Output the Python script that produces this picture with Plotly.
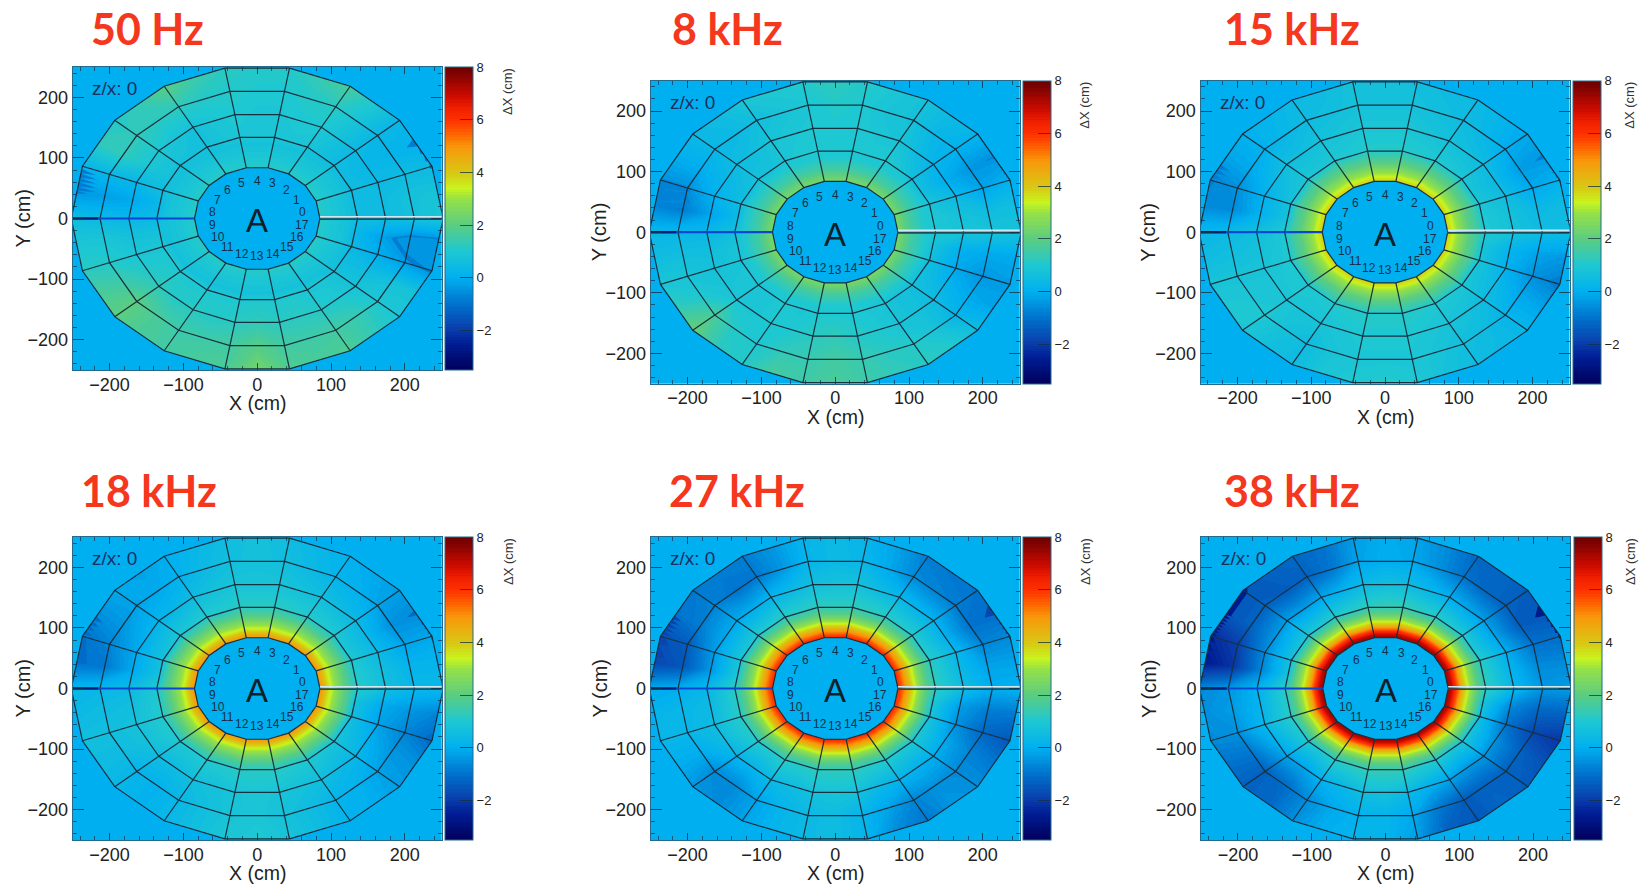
import numpy as np
import plotly.graph_objects as go

W, H = 1640, 884
titles = ["50 Hz", "8 kHz", "15 kHz", "18 kHz", "27 kHz", "38 kHz"]
title_centers = [(147, 29), (727, 29), (1291.7, 29), (148.5, 490.5), (737, 490.5), (1291.7, 490.5)]
axes_left = [72.7, 650.7, 1200.5, 72.7, 650.7, 1201]
axes_top = [67, 80.7, 80.7, 537, 537, 537]
axes_w, axes_h = 369, 303
ytitle_x = [22, 599, 1148.5, 22, 599, 1148.5]
dx_label_x = [508, 1085, 1630, 508, 1085, 1630]

angles_deg = [0, 10, 20, 30, 40, 50, 60, 70, 80, 90, 100, 110, 120, 130, 140, 150, 160, 170,
              180, 190, 200, 210, 220, 230, 240, 250, 260, 270, 280, 290, 300, 310, 320, 330, 340, 350]
inner_radii = [85, 90, 97, 105, 115, 125]
outer_radii = [136, 174, 213, 252]
ring_radii = [85, 136, 174, 213, 252]
sector_labels = list(range(18))

# dX (cm) read near the inner wall, same all round
hz50_inner = [1.2, 1.1, 1.0, 0.9, 0.8, 0.7]
khz8_inner = [2.5, 2.3, 2.0, 1.6, 1.3, 1.0]
khz15_inner = [3.9, 3.6, 3.1, 2.6, 2.0, 1.6]
khz18_inner = [5.0, 4.5, 3.7, 3.0, 2.3, 1.7]
khz27_inner = [6.2, 5.7, 4.8, 3.8, 2.7, 1.9]
khz38_inner = [7.5, 7.0, 5.8, 4.3, 3.0, 2.0]

# dX (cm) read on each outer ring, one row per ring, one column per angle
hz50_outer = [
 [.5,.5,.5,.5,.5,.6,.8,.9,.9,.9,.9,.8,.7,.7,.7,.7,.6,.3,.4,.7,.9,1.,1.,1.,1.,1.,1.,1.,1.,1.,.9,.9,.7,.5,.4,.3],
 [.5,.5,.4,.3,.4,.7,1.0,1.0,.9,.9,1.,.9,.7,.8,1.,.9,.3,-.1,.3,.7,.9,1.1,1.3,1.1,1.2,1.1,1.2,1.3,1.2,1.2,1.1,1.,.8,.5,0,-.2],
 [.7,.7,.5,.2,.3,.8,1.2,1.1,1.,1.,1.1,1.1,1.3,1.2,1.3,1.3,.3,-.3,.4,.9,1.1,1.5,2.,1.7,1.5,1.5,1.6,1.9,1.6,1.5,1.6,1.4,1.,.7,-.3,-.7],
 [.9,.8,.4,.1,.3,1.,1.7,1.4,1.1,1.1,1.2,1.5,2.,1.4,1.1,1.3,.2,-.4,.5,.9,1.2,1.7,2.,1.7,1.6,1.7,1.7,2.4,1.8,1.7,1.8,1.3,.9,.8,-.5,-.8],
]
khz8_outer = [
 [.9,1.,.8,.6,.6,.9,1.1,1.,1.,1.,1.,1.,.9,.7,.7,.6,.5,.4,.6,.8,.8,.9,.9,.9,1.,.9,1.,1.,1.,.9,.8,.7,.6,.6,.6,.7],
 [.8,.7,.4,.0,.2,.5,.8,.9,1.,1.,1.,.9,.8,.6,.5,.3,.1,-.2,.3,.6,.7,.8,.9,.9,1.,1.,1.2,1.3,1.1,1.,.8,.7,.5,.2,-.1,.1],
 [.8,.5,-.2,-.4,.1,.3,.7,.8,1.,1.1,.9,.8,.6,.4,.3,.0,-.5,-.8,.3,.6,.8,1.,1.7,1.1,1.,1.3,1.4,1.6,1.4,1.2,1.1,.8,.2,-.1,-.4,-.1],
 [.7,.6,.1,-.5,.2,.4,.7,.9,1.1,1.3,1.1,1.,.9,.5,.4,.0,-.5,-.7,.3,.5,.9,1.3,2.2,1.2,1.1,1.7,1.5,1.7,1.5,1.3,1.2,1.1,.6,-.2,-.3,-.1],
]
khz15_outer = [
 [1.,1.,.9,.8,.9,1.,1.,1.1,1.1,1.1,1.1,1.,1.,.9,.9,.8,.7,.7,1.,1.,1.,1.,1.,1.,1.1,1.1,1.1,1.1,1.1,1.1,1.,1.,.9,.8,.8,.8],
 [.7,.7,.5,.4,.5,.6,.7,.8,.9,.9,.9,.8,.7,.6,.6,.4,.1,.1,.6,.7,.8,.9,.9,.8,.8,.9,1.,1.,1.,.9,.8,.7,.5,.4,.1,.2],
 [.5,.4,-.1,-.3,.0,.3,.5,.6,.7,.7,.7,.6,.5,.3,.1,-.1,-.5,-.6,.4,.6,.8,.9,1.,.7,.5,.8,.9,.9,.9,.8,.6,.5,.2,-.1,-.5,-.2],
 [.5,.5,.1,-.4,-.1,.2,.4,.5,.6,.7,.7,.5,.4,.2,.1,-.2,-.7,-.6,.3,.5,.8,1.,.9,.6,.5,.9,1.,1.1,1.,.7,.5,.4,.3,-.2,-.8,-.4],
]
khz18_outer = [
 [1.1,1.1,1.,.9,1.,1.1,1.1,1.2,1.2,1.2,1.2,1.1,1.1,1.,.9,.8,.7,.7,1.,1.1,1.1,1.1,1.,1.,1.1,1.1,1.2,1.2,1.2,1.1,1.,.9,.8,.7,.6,.7],
 [.6,.6,.4,.3,.4,.5,.6,.7,.8,.8,.8,.7,.5,.3,.2,.1,-.1,-.1,.4,.6,.7,.7,.5,.5,.6,.7,.8,.9,.8,.7,.6,.4,.3,.1,-.2,-.1],
 [.3,.2,-.2,-.5,-.2,.1,.2,.4,.6,.7,.6,.4,.1,-.1,-.2,-.4,-.7,-.9,.3,.5,.6,.5,.2,.1,.3,.6,.8,.9,.7,.5,.2,.1,-.2,-.4,-.7,-.4],
 [.3,.2,-.1,-.6,-.3,-.1,.1,.3,.5,.7,.5,.3,.0,-.2,-.1,-.5,-1.,-1.,.2,.4,.6,.5,.3,.1,.3,.6,.9,1.,.8,.5,.1,.0,-.3,-.5,-1.1,-.7],
]
khz27_outer = [
 [1.3,1.3,1.2,1.1,1.1,1.2,1.2,1.3,1.3,1.3,1.3,1.2,1.2,1.1,1.,.9,.9,.9,1.2,1.2,1.2,1.2,1.1,1.1,1.2,1.2,1.3,1.3,1.3,1.2,1.1,1.,1.,.9,.8,.9],
 [.5,.4,.3,.1,.1,.2,.3,.5,.7,.7,.6,.4,.2,.0,-.1,-.1,-.3,-.4,.3,.4,.5,.5,.2,.2,.4,.5,.7,.8,.7,.4,.2,.1,.0,-.1,-.5,-.3],
 [.0,-.2,-.7,-1.,-.8,-.7,-.6,-.1,.3,.4,.2,-.4,-.9,-1.,-.7,-.8,-1.4,-1.5,.0,.3,.3,.0,-.6,-.6,-.2,.2,.4,.5,.2,-.2,-.7,-.5,-.6,-.7,-1.2,-.8],
 [.1,-.2,-.6,-1.1,-1.,-.9,-.8,-.2,.2,.4,.2,-.4,-.8,-.8,-.9,-1.,-1.6,-1.8,-.1,.2,.3,.0,-.4,-.6,-.2,.2,.4,.5,.2,-.6,-.9,-.4,-.5,-.9,-1.5,-.9],
]
khz38_outer = [
 [1.3,1.3,1.2,1.,1.,1.1,1.2,1.3,1.4,1.4,1.3,1.2,1.1,1.,.9,.8,.7,.7,1.2,1.2,1.2,1.1,1.,1.,1.2,1.3,1.4,1.4,1.4,1.2,1.1,.9,.9,.8,.6,.8],
 [.3,.2,.0,-.2,-.3,-.1,.0,.3,.5,.6,.4,.1,-.2,-.3,-.3,-.4,-.6,-.7,.1,.2,.3,.1,-.2,-.2,.1,.3,.6,.7,.4,.1,-.2,-.4,-.4,-.5,-1.,-.6],
 [-.4,-.6,-1.,-1.4,-1.3,-1.2,-1.,-.5,-.1,.0,-.2,-.9,-1.3,-1.4,-1.3,-1.3,-1.9,-2.1,-.4,-.3,-.5,-.9,-1.3,-1.1,-.6,-.1,.1,.2,-.1,-.9,-1.4,-1.3,-1.3,-1.3,-1.8,-1.2],
 [-.3,-.6,-1.1,-1.5,-1.4,-1.2,-1.2,-.6,-.2,.0,-.3,-1.,-1.2,-1.3,-1.5,-1.5,-2.3,-2.6,-.6,-.5,-.6,-1.,-1.3,-1.2,-.5,.0,.2,.2,-.3,-1.3,-1.5,-1.2,-1.4,-1.6,-2.1,-1.3],
]
inner_tables = [hz50_inner, khz8_inner, khz15_inner, khz18_inner, khz27_inner, khz38_inner]
outer_tables = [hz50_outer, khz8_outer, khz15_outer, khz18_outer, khz27_outer, khz38_outer]

Z_MIN, Z_MAX = -3.5, 8.0
color_stops = [(-3.5, "#00005f"), (-2.5, "#001e96"), (-2.0, "#0a3caa"), (-1.0, "#0073cd"), (0.0, "#00aff0"),
               (1.0, "#1ec8d2"), (2.0, "#5acd82"), (3.0, "#96e146"), (3.4, "#c8f51e"), (4.0, "#d7c814"),
               (5.0, "#fa960a"), (5.5, "#ff6400"), (6.0, "#ff3200"), (6.5, "#f01e00"), (7.0, "#c80a00"), (8.0, "#6e0000")]
colorscale = [[(v - Z_MIN) / (Z_MAX - Z_MIN), c] for v, c in color_stops]
BG = "#00aff0"
INK = "#17313f"
AXIS = "#246a8c"


def px_x(p):
    return p / W


def px_y(p):
    return 1 - p / H


def polygon_radius(r, ang):
    """Rings are 18-sided: vertices on multiples of 20 deg, straight chords between."""
    off = (ang % 20) - 10
    return r * np.cos(np.radians(10)) / np.cos(np.radians(off))


fig = go.Figure()
annotations = []
layout_axes = {}
angle_nodes = angles_deg + [360]
radius_nodes = inner_radii + outer_radii

for i in range(6):
    sfx = "" if i == 0 else str(i + 1)
    xref, yref = "x" + sfx, "y" + sfx
    L, T = axes_left[i], axes_top[i]
    R, B = L + axes_w, T + axes_h

    rows = [[v] * 36 for v in inner_tables[i]] + outer_tables[i]
    z = np.array(rows)              # radius first, angle second; the 360 column closes the ring
    z = np.hstack([z, z[:, :1]])
    aa, rr = np.meshgrid(angle_nodes, radius_nodes)
    rad = polygon_radius(rr.astype(float), aa.astype(float))
    xx = rad * np.cos(np.radians(aa))
    yy = rad * np.sin(np.radians(aa))
    cid = f"c{i}"
    hidden = dict(showgrid=False, showline=False, showticklabels="none", startline=False, endline=False,
                  minorgridcount=0, smoothing=0)
    # carpet a = angle, b = radius
    fig.add_trace(go.Carpet(a=angle_nodes, b=radius_nodes, x=xx.tolist(), y=yy.tolist(), carpet=cid,
                            xaxis=xref, yaxis=yref, aaxis=hidden, baxis=hidden))
    # levels sit between the one-decimal readings so none lands exactly on a node
    fig.add_trace(go.Contourcarpet(
        a=angle_nodes, b=radius_nodes, z=z.tolist(), carpet=cid, xaxis=xref, yaxis=yref,
        colorscale=colorscale, zmin=Z_MIN, zmax=Z_MAX, autocontour=False,
        contours=dict(start=Z_MIN + 0.037, end=Z_MAX, size=0.1, coloring="fill", showlines=False),
        line=dict(width=0, smoothing=0),
        colorbar=dict(x=px_x(R + 3.5), xanchor="left", xpad=0, y=px_y((T + B) / 2), yanchor="middle", ypad=0,
                      len=axes_h / H, lenmode="fraction", thickness=28, thicknessmode="pixels",
                      outlinewidth=1, outlinecolor=AXIS, borderwidth=0,
                      tickmode="array", tickvals=[-2, 0, 2, 4, 6, 8], ticktext=["\u22122", "0", "2", "4", "6", "8"],
                      ticks="inside", ticklen=13, tickwidth=1, tickcolor="rgba(20,50,60,0.75)",
                      tickfont=dict(family="Liberation Sans", size=13, color="#222"))))

    # sector grid
    gx, gy = [], []
    for r in ring_radii:
        for a in range(0, 361, 20):
            gx.append(r * np.cos(np.radians(a)))
            gy.append(r * np.sin(np.radians(a)))
        gx.append(None)
        gy.append(None)
    for a in range(20, 360, 20):
        if a == 180:
            continue
        gx += [85 * np.cos(np.radians(a)), 252 * np.cos(np.radians(a)), None]
        gy += [85 * np.sin(np.radians(a)), 252 * np.sin(np.radians(a)), None]
    fig.add_trace(go.Scatter(x=gx, y=gy, mode="lines", line=dict(color=INK, width=1.2), xaxis=xref, yaxis=yref,
                             hoverinfo="skip", showlegend=False))
    # the sector boundary lines along y = 0
    for xs, ys, col, wd in [([-85, -215], [0, 0], "#0a46d2", 2.2), ([-215, -250], [0, 0], "#001e78", 2.6),
                            ([85, 250], [3, 3], "#cfe8f2", 1.6), ([85, 250], [-1, -1], "#1a4c5e", 1.8)]:
        fig.add_trace(go.Scatter(x=xs, y=ys, mode="lines", line=dict(color=col, width=wd), xaxis=xref, yaxis=yref,
                                 hoverinfo="skip", showlegend=False))

    base = dict(range=[-250, 250], tick0=0, dtick=100, ticks="inside", showline=True, linecolor=AXIS, linewidth=1,
                mirror="ticks", showgrid=False, zeroline=False, tickcolor="rgba(20,50,70,0.8)", tickwidth=1,
                tickfont=dict(family="Liberation Sans", size=18, color="#222"),
                minor=dict(ticks="inside", ticklen=4, dtick=20, tick0=0, tickcolor="rgba(20,50,70,0.7)", tickwidth=1,
                           showgrid=False))
    layout_axes["xaxis" + sfx] = dict(base, domain=[px_x(L), px_x(R)], anchor=yref, ticklen=7, ticklabelstandoff=-2)
    layout_axes["yaxis" + sfx] = dict(base, domain=[px_y(B), px_y(T)], anchor=xref, ticklen=11)

    annotations.append(dict(text=f"<b>{titles[i]}</b>", x=px_x(title_centers[i][0]), y=px_y(title_centers[i][1]),
                            xref="paper", yref="paper", showarrow=False, xanchor="center", yanchor="middle",
                            font=dict(family="Lato", size=43, color="#f5371e")))
    annotations.append(dict(text="X (cm)", x=px_x((L + R) / 2), y=px_y(B + 33), xref="paper", yref="paper",
                            showarrow=False, xanchor="center", yanchor="middle",
                            font=dict(family="Liberation Sans", size=19.5, color="#222")))
    annotations.append(dict(text="Y (cm)", x=px_x(ytitle_x[i]), y=px_y((T + B) / 2), xref="paper", yref="paper",
                            showarrow=False, textangle=-90, xanchor="center", yanchor="middle",
                            font=dict(family="Liberation Sans", size=20, color="#222")))
    annotations.append(dict(text="\u0394X (cm)", x=px_x(dx_label_x[i]), y=px_y(T + 25), xref="paper", yref="paper",
                            showarrow=False, textangle=-90, xanchor="center", yanchor="middle",
                            font=dict(family="Liberation Sans", size=13, color="#333")))
    annotations.append(dict(text="z/x: 0", x=-226, y=214, xref=xref, yref=yref, showarrow=False, xanchor="left",
                            yanchor="middle", font=dict(family="Liberation Sans", size=19, color="#1a3060")))
    annotations.append(dict(text="A", x=0, y=-4, xref=xref, yref=yref, showarrow=False, xanchor="center",
                            yanchor="middle", font=dict(family="Liberation Sans", size=33, color="#10202a")))
    for k in sector_labels:
        a = np.radians(10 + 20 * k)
        annotations.append(dict(text=str(k), x=62 * np.cos(a), y=62 * np.sin(a), xref=xref, yref=yref,
                                showarrow=False, xanchor="center", yanchor="middle",
                                font=dict(family="Liberation Sans", size=12, color="#14304a")))

fig.update_layout(width=W, height=H, margin=dict(l=0, r=0, t=0, b=0), autosize=False, showlegend=False,
                  paper_bgcolor="white", plot_bgcolor=BG, annotations=annotations, **layout_axes)
fig.write_html("out.html", config={"displayModeBar": False},
               post_script="document.body.style.margin='0';document.documentElement.style.overflow='hidden';")
